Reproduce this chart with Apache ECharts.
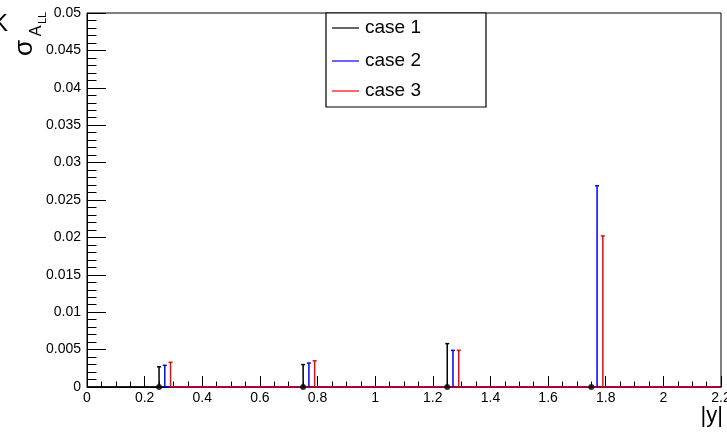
<!DOCTYPE html>
<html>
<head>
<meta charset="utf-8">
<script src="https://cdn.jsdelivr.net/npm/echarts@6/dist/echarts.min.js"></script>
<style>
  html, body { margin: 0; padding: 0; background: #fff; }
  #chart { width: 727px; height: 433px; }
</style>
</head>
<body>
<div id="chart"></div>
<script>
// Uncertainty on A_LL per |y| bin, three cases (points sit at 0, bars show the error)
const caseNames = ['case 1', 'case 2', 'case 3'];
const caseColors = ['#000000', '#0000ff', '#ff0000'];

const case1X = [0.25, 0.75, 1.25, 1.75];
const case1Y = [0, 0, 0, 0];
const case1Err = [0.0027, 0.0030, 0.0058, 0.0];

const case2X = [0.27, 0.77, 1.27, 1.77];
const case2Y = [0, 0, 0, 0];
const case2Err = [0.0029, 0.0032, 0.0049, 0.0269];

const case3X = [0.29, 0.79, 1.29, 1.79];
const case3Y = [0, 0, 0, 0];
const case3Err = [0.0033, 0.0035, 0.0049, 0.0202];

// where each case's connecting line begins along the axis
const lineStart = [0, case2X[0], case3X[0]];

const xMin = 0, xMax = 2.2, xStep = 0.2;
const yMin = 0, yMax = 0.05, yStep = 0.005;

const FONT = '"Liberation Sans", Arial, Helvetica, sans-serif';

const cases = [
  { x: case1X, y: case1Y, err: case1Err },
  { x: case2X, y: case2Y, err: case2Err },
  { x: case3X, y: case3Y, err: case3Err }
];

function fmt(v) { return String(+v.toFixed(4)); }

function errorBarItem(color) {
  return function (params, api) {
    const x = api.value(0), y = api.value(1), e = api.value(2);
    if (!(e > 0)) return null;
    const top = api.coord([x, y + e]);
    const bot = api.coord([x, y - e]);
    const cap = 2;
    const style = { stroke: color, lineWidth: 1.5 };
    return {
      type: 'group',
      children: [
        { type: 'line', shape: { x1: top[0], y1: top[1], x2: bot[0], y2: bot[1] }, style },
        { type: 'line', shape: { x1: top[0] - cap, y1: top[1], x2: top[0] + cap, y2: top[1] }, style },
        { type: 'line', shape: { x1: bot[0] - cap, y1: bot[1], x2: bot[0] + cap, y2: bot[1] }, style }
      ]
    };
  };
}

const series = [];
// connecting lines along the points
cases.forEach((c, i) => {
  const pts = [[lineStart[i], 0]];
  c.x.forEach((xv, k) => { if (xv > lineStart[i]) pts.push([xv, c.y[k]]); });
  pts.push([xMax, 0]);
  series.push({
    name: caseNames[i], type: 'line', data: pts, symbol: 'none',
    lineStyle: { color: caseColors[i], width: 1.5 }, silent: true, z: 3
  });
});
// error bars
cases.forEach((c, i) => {
  series.push({
    name: caseNames[i] + ' err', type: 'custom', clip: true, z: 4,
    renderItem: errorBarItem(caseColors[i]),
    data: c.x.map((xv, k) => [xv, c.y[k], c.err[k]])
  });
});
// markers of case 1
series.push({
  name: caseNames[0] + ' pts', type: 'scatter', clip: false, z: 5,
  symbol: 'circle', symbolSize: 6,
  itemStyle: { color: caseColors[0] },
  data: case1X.map((xv, k) => [xv, case1Y[k]])
});

// legend box
const legendX = 326, legendY = 13, legendW = 160, legendH = 94;
const legendRows = [28, 61, 91];
const legendChildren = [{
  type: 'rect', shape: { x: legendX, y: legendY, width: legendW, height: legendH },
  style: { fill: '#fff', stroke: '#000', lineWidth: 1.2 }
}];
caseNames.forEach((n, i) => {
  legendChildren.push({
    type: 'line', shape: { x1: 332, y1: legendRows[i], x2: 359, y2: legendRows[i] },
    style: { stroke: caseColors[i], lineWidth: 1.2 }
  });
  legendChildren.push({
    type: 'text', x: 365, y: legendRows[i],
    style: { text: n, fill: '#000', font: '19px ' + FONT, textAlign: 'left', textVerticalAlign: 'middle' }
  });
});

const option = {
  animation: false,
  backgroundColor: '#fff',
  grid: {
    left: 87, right: 6, top: 13, bottom: 46,
    containLabel: false, outerBoundsMode: 'none',
    show: true, borderColor: '#000', borderWidth: 1, backgroundColor: 'transparent'
  },
  xAxis: {
    type: 'value', min: xMin, max: xMax, interval: xStep,
    axisLine: { show: true, onZero: false, lineStyle: { color: '#000', width: 1 } },
    axisTick: { show: true, inside: true, length: 11, lineStyle: { color: '#000', width: 1 } },
    minorTick: { show: true, splitNumber: 4, length: 5.5, lineStyle: { color: '#000', width: 1 } },
    splitLine: { show: false },
    axisLabel: {
      show: true, margin: 4, color: '#000', fontSize: 14, fontFamily: FONT,
      formatter: fmt, showMinLabel: true, showMaxLabel: true, hideOverlap: false
    }
  },
  yAxis: {
    type: 'value', min: yMin, max: yMax, interval: yStep,
    axisLine: { show: true, onZero: false, lineStyle: { color: '#000', width: 1 } },
    axisTick: { show: true, inside: true, length: 19, lineStyle: { color: '#000', width: 1 } },
    minorTick: { show: true, splitNumber: 5, length: 9.5, lineStyle: { color: '#000', width: 1 } },
    splitLine: { show: false },
    axisLabel: {
      show: true, margin: 6, color: '#000', fontSize: 14, fontFamily: FONT,
      formatter: fmt, showMinLabel: true, showMaxLabel: true, hideOverlap: false
    }
  },
  series: series,
  graphic: [
    { type: 'group', children: legendChildren, z: 100 },
    // y-axis title: sigma with nested subscripts A, LL
    { type: 'text', x: 25, y: 48, rotation: Math.PI / 2,
      style: { text: 'σ', fill: '#000', font: '26px ' + FONT, textAlign: 'center', textVerticalAlign: 'middle' } },
    { type: 'text', x: 37, y: 31, rotation: Math.PI / 2,
      style: { text: 'A', fill: '#000', font: '16px ' + FONT, textAlign: 'center', textVerticalAlign: 'middle' } },
    { type: 'text', x: 43, y: 18, rotation: Math.PI / 2,
      style: { text: 'LL', fill: '#000', font: '11px ' + FONT, textAlign: 'center', textVerticalAlign: 'middle' } },
    { type: 'text', x: -8, y: 12,
      style: { text: 'K', fill: '#000', font: '24px ' + FONT, textAlign: 'left', textVerticalAlign: 'top' } },
    // x-axis title
    { type: 'text', x: 723, y: 416,
      style: { text: '|y|', fill: '#000', font: '22px ' + FONT, textAlign: 'right', textVerticalAlign: 'middle' } }
  ]
};

const chart = echarts.init(document.getElementById('chart'), null, { renderer: 'canvas' });
chart.setOption(option);
</script>
</body>
</html>
